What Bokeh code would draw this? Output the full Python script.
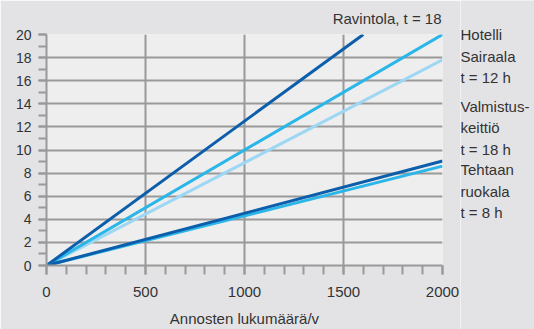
from bokeh.plotting import figure
from bokeh.models import Range1d, FixedTicker, Label, Title
from bokeh.layouts import row
from bokeh.embed import file_html
from bokeh.resources import INLINE

# ---- data ----
series_names = ["Sairaala", "Hotelli", "Ravintola", "Tehtaan ruokala", "Valmistuskeittiö"]
x_start = [0, 0, 0, 0, 0]
y_start = [0, 0, 0, 0, 0]
x_end = [2000, 2000, 1600, 2000, 2000]
y_end = [17.8, 20.0, 20.0, 8.6, 9.05]
colors = ["#9dd7f4", "#2ab6e9", "#0c5eab", "#2ab6e9", "#0c5eab"]

x_ticks = [0, 500, 1000, 1500, 2000]
x_minor = list(range(0, 2001, 100))
y_ticks = [0, 2, 4, 6, 8, 10, 12, 14, 16, 18, 20]
y_minor = list(range(0, 21, 1))
x_label = "Annosten lukumäärä/v"

right_labels = ["Hotelli", "Sairaala", "t = 12 h",
                "Valmistus-", "keittiö", "t = 18 h",
                "Tehtaan", "ruokala", "t = 8 h"]
top_label = "Ravintola, t = 18"

FONT = "Liberation Sans"
TXT = "#333333"
GRID = "#999999"
BG_OUT = "#e3e3e5"
BG_IN = "#eeeeee"

H = 329
p = figure(width=460, height=H, output_backend="svg", toolbar_location=None,
           x_range=Range1d(0, 2000), y_range=Range1d(0, 20),
           min_border_left=46, min_border_right=18, min_border_top=33, min_border_bottom=63)
p.background_fill_color = BG_IN
p.border_fill_color = BG_OUT
p.outline_line_color = None
p.frame_align = False

p.title = Title(text=top_label, align="right", text_font=FONT, text_font_size="15px",
                text_font_style="normal", text_color=TXT, standoff=15, offset=1)

p.xaxis.ticker = FixedTicker(ticks=x_ticks, minor_ticks=x_minor)
p.yaxis.ticker = FixedTicker(ticks=y_ticks, minor_ticks=y_minor)
p.xgrid.ticker = FixedTicker(ticks=x_ticks)
p.ygrid.ticker = FixedTicker(ticks=y_ticks)
for g in (p.xgrid, p.ygrid):
    g.grid_line_color = GRID
    g.grid_line_width = 2

for ax in (p.xaxis, p.yaxis):
    ax.axis_line_color = GRID
    ax.axis_line_width = 2
    ax.major_tick_line_color = GRID
    ax.minor_tick_line_color = GRID
    ax.major_tick_line_width = 2
    ax.minor_tick_line_width = 2
    ax.major_tick_in = 0
    ax.minor_tick_in = 0
    ax.major_label_text_font = FONT
    ax.major_label_text_color = TXT
    ax.axis_label_text_font = FONT
    ax.axis_label_text_color = TXT
    ax.axis_label_text_font_style = "normal"

p.xaxis.major_tick_out = 9
p.xaxis.minor_tick_out = 9
p.yaxis.major_tick_out = 8
p.yaxis.minor_tick_out = 8
p.xaxis.major_label_text_font_size = "15px"
p.yaxis.major_label_text_font_size = "14px"
p.xaxis.major_label_standoff = 12
p.yaxis.major_label_standoff = 7
p.xaxis.axis_label = x_label
p.xaxis.axis_label_text_font_size = "15px"
p.xaxis.axis_label_standoff = 10

for xs, ys, xe, ye, c in zip(x_start, y_start, x_end, y_end, colors):
    p.line([xs, xe], [ys, ye], line_color=c, line_width=3)

# side panel for the curve labels
side = figure(width=74, height=H, output_backend="svg", toolbar_location=None,
              x_range=Range1d(0, 1), y_range=Range1d(0, 1),
              x_axis_type=None, y_axis_type=None,
              min_border_left=0, min_border_right=0, min_border_top=0, min_border_bottom=0)
side.background_fill_color = BG_OUT
side.border_fill_color = BG_OUT
side.outline_line_color = None
side.frame_align = False

baselines = [34, 56, 77, 106, 127, 149, 169, 191, 212]
for t, b in zip(right_labels, baselines):
    side.add_layout(Label(x=0, y=H - b, x_units="screen", y_units="screen", text=t,
                          text_align="left", text_baseline="alphabetic", text_font=FONT,
                          text_font_size="15px", text_color=TXT))

layout = row(p, side, spacing=0)
open("out.html", "w").write(file_html(layout, INLINE))
